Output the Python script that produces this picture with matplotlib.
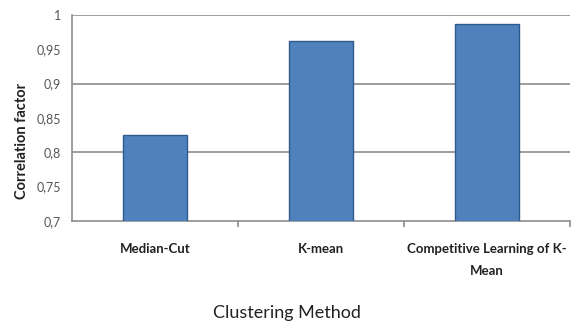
import matplotlib
matplotlib.use("Agg")
import matplotlib.pyplot as plt
import numpy as np

categories = ["Median-Cut", "K-mean", "Competitive Learning of K-\nMean"]
values = [0.825, 0.962, 0.987]
ytick_vals = [0.7, 0.75, 0.8, 0.85, 0.9, 0.95, 1.0]
ytick_labels = ["0,7", "0,75", "0,8", "0,85", "0,9", "0,95", "1"]
grid_vals = [0.8, 0.9, 1.0]

plt.rcParams['font.family'] = ['Lato', 'DejaVu Sans']

fig = plt.figure(figsize=(5.71, 3.24), dpi=100)
ax = fig.add_axes([0.126, 0.318, 0.872, 0.636])

x = np.arange(len(categories))
ax.bar(x, values, width=0.39, color="#4F81BD", edgecolor="#2E5A8E", linewidth=1.0, zorder=3)

ax.set_xlim(-0.5, len(categories) - 0.5)
ax.set_ylim(0.7, 1.0)

for g in grid_vals:
    ax.axhline(g, color="#8C8C8C", linewidth=1.2, zorder=1)

ax.set_yticks(ytick_vals)
ax.set_yticklabels(ytick_labels, fontsize=9, color="#555555")
ax.tick_params(axis="y", length=0, pad=8)
# short marks at the gridline levels
ax.set_yticks([0.7, 0.8, 0.9, 1.0], minor=True)
ax.tick_params(axis="y", which="minor", length=4, color="#8C8C8C", width=1.2)

ax.set_xticks(x)
ax.set_xticklabels(categories, fontsize=9.5, fontweight="bold", color="#222222",
                   linespacing=1.95)
ax.tick_params(axis="x", length=0, pad=16)
ax.set_xticks(np.arange(len(categories)) + 0.5, minor=True)
ax.tick_params(axis="x", which="minor", length=4, color="#8C8C8C", width=1.2)

for side in ["top", "right"]:
    ax.spines[side].set_visible(False)
for side in ["left", "bottom"]:
    ax.spines[side].set_color("#8C8C8C")
    ax.spines[side].set_linewidth(1.2)

ax.set_ylabel("Correlation factor", fontsize=10.5, fontweight="bold", color="#222222")
ax.yaxis.set_label_coords(-0.086, 0.39)
fig.text(0.503, 0.035, "Clustering Method", fontsize=13, color="#222222", ha="center", va="center")

fig.savefig("out.png", dpi=100)
